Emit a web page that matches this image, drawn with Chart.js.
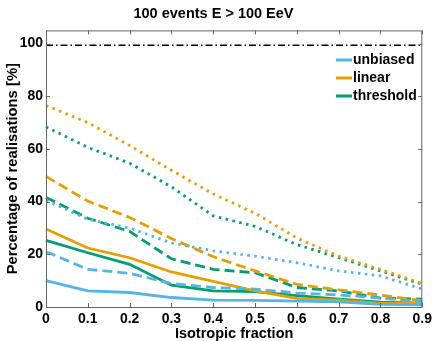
<!DOCTYPE html>
<html>
<head>
<meta charset="utf-8">
<script src="https://cdn.jsdelivr.net/npm/chart.js@4.4.0/dist/chart.umd.min.js"></script>
<style>
  html, body { margin: 0; padding: 0; background: #fff; }
  #wrap { width: 436px; height: 341px; }
</style>
</head>
<body>
<div id="wrap"><canvas id="chart" width="436" height="341"></canvas></div>
<script>
// Isotropic fraction categories
const fractions = ['0', '0.1', '0.2', '0.3', '0.4', '0.5', '0.6', '0.7', '0.8', '0.9'];
const yTicks = [0, 20, 40, 60, 80, 100];

// Percentage of realisations
const unbiasedSolid  = [10, 6.1, 5.5, 3.6, 2.6, 2.5, 2.2, 2.0, 1.0, 0.8];
const unbiasedDashed = [21, 14.3, 12.8, 8.9, 7.4, 6.8, 5.3, 4.6, 3.4, 2.0];
const unbiasedDotted = [40.5, 33.3, 30, 24.3, 21.3, 19.3, 16.8, 13.7, 11.8, 6.8];

const linearSolid  = [29.6, 22.4, 18.7, 13.3, 9.7, 6.1, 3.3, 2.6, 1.4, 1.5];
const linearDashed = [49.6, 40.2, 34, 26, 19.1, 13.7, 8.6, 6.5, 4.5, 2.4];
const linearDotted = [76.5, 70, 61.3, 51.9, 42.9, 35.6, 26.2, 19.3, 14.3, 8.9];

const thresholdSolid  = [25.3, 20.6, 16.2, 8.3, 6.1, 5.8, 4.3, 3.0, 1.8, 1.5];
const thresholdDashed = [41.6, 33.7, 28.7, 18.3, 14.3, 13, 7.4, 6.1, 3.4, 3.0];
const thresholdDotted = [68.4, 60.6, 54.6, 45.6, 34.6, 30.6, 23.7, 18.7, 13.7, 8.6];

const referenceLine = fractions.map(() => 99.4);

const BLUE = '#56B4E9';
const ORANGE = '#E69F00';
const GREEN = '#009E73';
const DASH = [10, 5];
const DOT = [2.5, 4.5];

function series(label, data, color, dash) {
  return {
    label,
    data,
    borderColor: color,
    backgroundColor: color,
    borderWidth: 2.8,
    borderDash: dash,
    pointRadius: 0,
    tension: 0,
    fill: false
  };
}

// Box, inward ticks and the legend drawn inside the plot area
const frame = {
  id: 'frame',
  afterDraw(chart) {
    const { ctx, chartArea: a, scales } = chart;
    ctx.save();
    ctx.strokeStyle = '#666';
    ctx.lineWidth = 1;
    ctx.strokeRect(a.left + 0.5, a.top + 0.5, a.right - a.left - 1, a.bottom - a.top);
    ctx.beginPath();
    fractions.forEach((f, i) => {
      const x = Math.round(scales.x.getPixelForValue(i)) + 0.5;
      ctx.moveTo(x, a.bottom); ctx.lineTo(x, a.bottom - 4);
      ctx.moveTo(x, a.top); ctx.lineTo(x, a.top + 4);
    });
    yTicks.forEach(v => {
      const y = Math.round(scales.y.getPixelForValue(v)) + 0.5;
      ctx.moveTo(a.left, y); ctx.lineTo(a.left + 4, y);
      ctx.moveTo(a.right, y); ctx.lineTo(a.right - 4, y);
    });
    ctx.stroke();

    const items = [['unbiased', BLUE], ['linear', ORANGE], ['threshold', GREEN]];
    ctx.font = 'bold 14px "Liberation Sans", Arial, sans-serif';
    ctx.textBaseline = 'middle';
    ctx.fillStyle = '#000';
    items.forEach(([name, color], i) => {
      const y = 60 + i * 18;
      ctx.strokeStyle = color;
      ctx.lineWidth = 3;
      ctx.beginPath();
      ctx.moveTo(336, y); ctx.lineTo(352, y);
      ctx.stroke();
      ctx.fillText(name, 353, y);
    });
    ctx.restore();
  }
};

new Chart(document.getElementById('chart'), {
  type: 'line',
  data: {
    labels: fractions,
    datasets: [
      {
        label: 'reference',
        data: referenceLine,
        borderColor: '#000',
        borderWidth: 1.5,
        borderDash: [7, 3, 1.5, 3],
        pointRadius: 0
      },
      series('unbiased', unbiasedDotted, BLUE, DOT),
      series('linear', linearDotted, ORANGE, DOT),
      series('threshold', thresholdDotted, GREEN, DOT),
      series('unbiased', unbiasedDashed, BLUE, DASH),
      series('linear', linearDashed, ORANGE, DASH),
      series('threshold', thresholdDashed, GREEN, DASH),
      series('unbiased', unbiasedSolid, BLUE, []),
      series('linear', linearSolid, ORANGE, []),
      series('threshold', thresholdSolid, GREEN, [])
    ]
  },
  options: {
    responsive: false,
    animation: false,
    layout: { padding: { left: 4, right: 13, top: 0, bottom: 0 } },
    plugins: {
      legend: { display: false },
      tooltip: { enabled: false },
      title: {
        display: true,
        text: '100 events E > 100 EeV',
        color: '#000',
        font: { family: 'Liberation Sans', size: 14.5, weight: 'bold' },
        padding: { top: 5, bottom: 8 }
      }
    },
    scales: {
      x: {
        type: 'category',
        offset: false,
        grid: { display: false, drawTicks: false },
        border: { display: false },
        afterFit: s => { s.height = 34; },
        ticks: {
          color: '#000',
          padding: 4,
          maxRotation: 0,
          font: { family: 'Liberation Sans', size: 14, weight: 'bold' }
        },
        title: {
          display: true,
          text: 'Isotropic fraction',
          color: '#000',
          padding: { top: 0, bottom: -2 },
          font: { family: 'Liberation Sans', size: 14.5, weight: 'bold' }
        }
      },
      y: {
        min: 0,
        max: 105,
        grid: { display: false, drawTicks: false },
        border: { display: false },
        afterFit: s => { s.width = 42; },
        ticks: {
          stepSize: 20,
          includeBounds: false,
          color: '#000',
          padding: 3,
          font: { family: 'Liberation Sans', size: 14, weight: 'bold' },
          callback: v => (v % 20 === 0 ? v : '')
        },
        title: {
          display: true,
          text: 'Percentage of realisations [%]',
          color: '#000',
          padding: { top: 0, bottom: 2 },
          font: { family: 'Liberation Sans', size: 14.8, weight: 'bold' }
        }
      }
    }
  },
  plugins: [frame]
});
</script>
</body>
</html>
